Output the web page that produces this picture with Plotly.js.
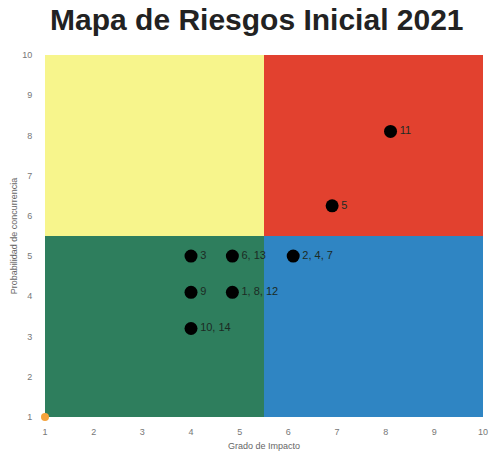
<!DOCTYPE html>
<html>
<head>
<meta charset="utf-8">
<script src="https://cdn.plot.ly/plotly-3.0.1.min.js"></script>
<style>html,body{margin:0;padding:0;background:#fff;}#chart{width:491px;height:454px;}</style>
</head>
<body>
<div id="chart"></div>
<script>
// Risk points
const impacto = [8.1, 6.9, 4.0, 4.85, 6.1, 4.0, 4.85, 4.0];
const probabilidad = [8.1, 6.25, 5.0, 5.0, 5.0, 4.1, 4.1, 3.2];
const etiquetas = ['11', '5', '3', '6, 13', '2, 4, 7', '9', '1, 8, 12', '10, 14'];

// Origin marker
const origenX = [1];
const origenY = [1];

// Quadrants: [x0, x1, y0, y1]
const cuadranteX0 = [1, 5.5, 1, 5.5];
const cuadranteX1 = [5.5, 10, 5.5, 10];
const cuadranteY0 = [5.5, 5.5, 1, 1];
const cuadranteY1 = [10, 10, 5.5, 5.5];
const cuadranteColor = ['#f7f58c', '#e2412f', '#2e7e5d', '#2f85c3'];

const ticks = [1, 2, 3, 4, 5, 6, 7, 8, 9, 10];

const shapes = cuadranteX0.map((x0, i) => ({
  type: 'rect', xref: 'x', yref: 'y', layer: 'below',
  x0: x0, x1: cuadranteX1[i], y0: cuadranteY0[i], y1: cuadranteY1[i],
  fillcolor: cuadranteColor[i], line: {width: 0}
}));

const traces = [
  {
    x: impacto, y: probabilidad, text: etiquetas,
    mode: 'markers+text', type: 'scatter',
    textposition: 'middle right',
    textfont: {family: 'Liberation Sans, Arial, sans-serif', size: 11, color: '#1c2b24'},
    marker: {color: '#000', size: 13},
    cliponaxis: false, hoverinfo: 'none'
  },
  {
    x: origenX, y: origenY, mode: 'markers', type: 'scatter',
    marker: {color: '#f5a33c', size: 8}, cliponaxis: false, hoverinfo: 'none'
  }
];

const layout = {
  width: 491, height: 454,
  margin: {l: 45, r: 8, t: 55, b: 37},
  paper_bgcolor: '#fff', plot_bgcolor: '#fff',
  showlegend: false,
  title: {
    text: '<b>Mapa de Riesgos Inicial 2021</b>',
    font: {family: 'Liberation Sans, Arial, sans-serif', size: 30, color: '#222'},
    x: 0.523, xanchor: 'center', y: 1, yanchor: 'top', yref: 'container', pad: {t: 9}
  },
  xaxis: {
    range: [1, 10], tickvals: ticks, showgrid: false, zeroline: false, showline: false,
    tickfont: {family: 'Liberation Sans, Arial, sans-serif', size: 9, color: '#777'},
    ticks: 'outside', ticklen: 6, tickcolor: 'rgba(0,0,0,0)',
    title: {text: 'Grado de Impacto', standoff: 6, font: {family: 'Liberation Sans, Arial, sans-serif', size: 9, color: '#666'}}
  },
  yaxis: {
    range: [1, 10], tickvals: ticks, showgrid: false, zeroline: false, showline: false,
    tickfont: {family: 'Liberation Sans, Arial, sans-serif', size: 9, color: '#777'},
    ticks: 'outside', ticklen: 10, tickcolor: 'rgba(0,0,0,0)',
    title: {text: 'Probabilidad de concurrencia', standoff: 3, font: {family: 'Liberation Sans, Arial, sans-serif', size: 9, color: '#666'}}
  },
  shapes: shapes
};

Plotly.newPlot('chart', traces, layout, {displayModeBar: false, staticPlot: true});
</script>
</body>
</html>
